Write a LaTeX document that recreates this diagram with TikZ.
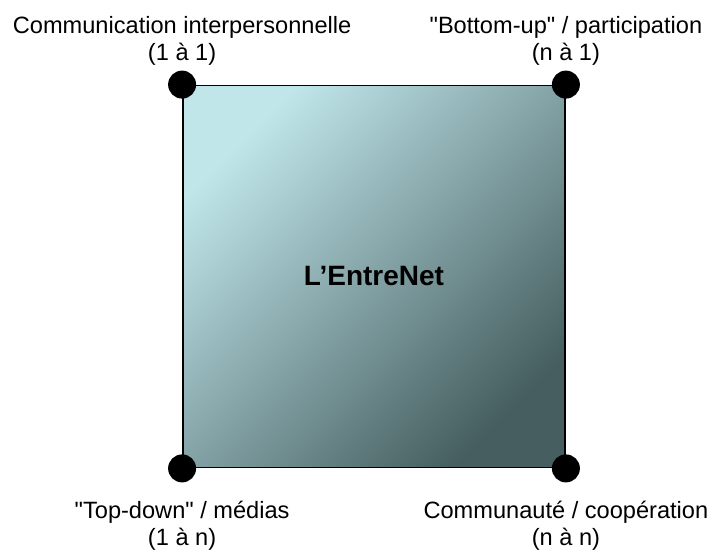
\documentclass[tikz,border=0pt]{standalone}
\usepackage{fontspec}
\setmainfont{Liberation Sans}
\usetikzlibrary{positioning}
\definecolor{netlight}{RGB}{192,230,234}
\definecolor{netdark}{RGB}{70,94,96}
\tikzset{
  corner/.style={circle, fill=black, inner sep=0pt, minimum size=14pt},
  mode/.style={align=center, inner sep=0pt, font=\fontsize{11.8}{13.5}\selectfont}
}

\begin{document}
\begin{tikzpicture}[x=0.5pt, y=0.5pt]
      \useasboundingbox (0,0) rectangle (707,553);
      % the square
      \node[draw, line width=0.9pt, minimum size=191pt, inner sep=0pt,
            top color=netlight, bottom color=netdark, shading angle=45,
            font=\bfseries\fontsize{14}{16}\selectfont] (net) at (374,276.5) {L’EntreNet};
      % corners
      \node[corner] (tl) at (net.north west) {};
      \node[corner] (tr) at (net.north east) {};
      \node[corner] (bl) at (net.south west) {};
      \node[corner] (br) at (net.south east) {};
      % labels
      \node[mode, above=2pt of tl] (oneone) {Communication interpersonnelle\\(1 à 1)};
      \node[mode, above=2pt of tr] (none) {\textquotedbl Bottom-up\textquotedbl{} / participation\\(n à 1)};
      \node[mode, below=9pt of bl] (onen) {\textquotedbl Top-down\textquotedbl{} / médias\\(1 à n)};
      \node[mode, below=9pt of br] (nn) {Communauté / coopération\\(n à n)};
\end{tikzpicture}
\end{document}
